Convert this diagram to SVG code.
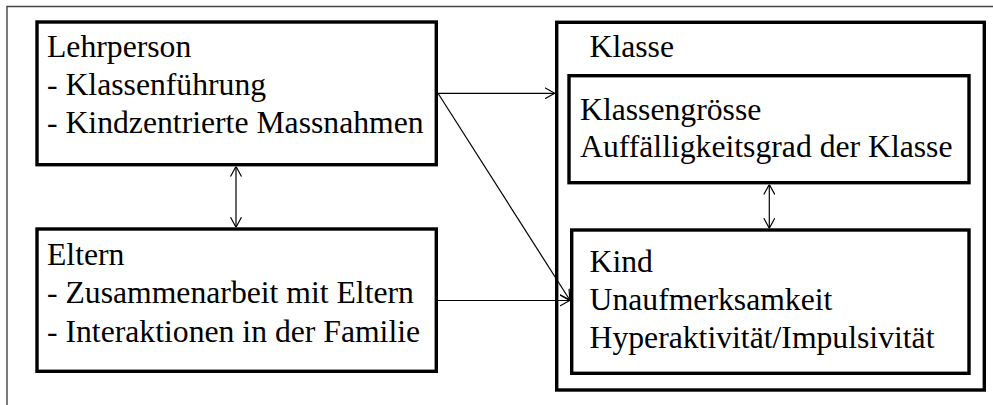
<svg xmlns="http://www.w3.org/2000/svg" width="993" height="405" viewBox="0 0 993 405">
<style>
  .box { fill: #fff; stroke: #000; stroke-width: 3.4; }
  .t { font-size: 31.7px; fill: #000; }
  .c { stroke: #000; stroke-width: 1.2; fill: none; }
  .frame { stroke: #444; stroke-width: 1.4; fill: none; }
</style>
<defs>
  <marker id="ah" viewBox="0 0 10 12" markerUnits="userSpaceOnUse" markerWidth="10" markerHeight="12" refX="10" refY="6" orient="auto-start-reverse">
    <path d="M0,0.5 L10,6 L0,11.5" fill="none" stroke="#000" stroke-width="1.2"/>
  </marker>
</defs>
<rect x="0" y="0" width="993" height="405" fill="#fff"/>
<g id="frame">
  <path class="frame" d="M7,405 L7,6.5 L993,6.5"/>
</g>
<g font-family="Liberation Serif, DejaVu Serif, serif">
<g id="lehrperson">
  <rect class="box" x="37" y="22" width="399.3" height="142.7"/>
  <text class="t" x="47" y="57.3">Lehrperson</text>
  <text class="t" x="47" y="95">- Klassenführung</text>
  <text class="t" x="47" y="133.3">- Kindzentrierte Massnahmen</text>
</g>
<g id="eltern">
  <rect class="box" x="37" y="229" width="399.3" height="142.3"/>
  <text class="t" x="47" y="265">Eltern</text>
  <text class="t" x="47" y="303.3">- Zusammenarbeit mit Eltern</text>
  <text class="t" x="47" y="341.7">- Interaktionen in der Familie</text>
</g>
<g id="klasse">
  <rect class="box" x="556.7" y="22.3" width="427.6" height="367.7"/>
  <text class="t" x="589.5" y="56.7">Klasse</text>
</g>
<g id="klassengroesse">
  <rect class="box" x="569" y="75.7" width="400" height="107"/>
  <text class="t" x="580" y="120">Klassengrösse</text>
  <text class="t" x="580" y="157.3">Auffälligkeitsgrad der Klasse</text>
</g>
<g id="kind">
  <rect class="box" x="571.7" y="230" width="397.3" height="143.3"/>
  <text class="t" x="589.5" y="271.7">Kind</text>
  <text class="t" x="589.5" y="310">Unaufmerksamkeit</text>
  <text class="t" x="589.5" y="348.3">Hyperaktivität/Impulsivität</text>
</g>
</g>
<g id="connectors">
  <line class="c" x1="438" y1="93.3" x2="554.8" y2="93.3" marker-end="url(#ah)"/>
  <line class="c" x1="438" y1="93.3" x2="569.8" y2="300" marker-end="url(#ah)"/>
  <line class="c" x1="438" y1="300.5" x2="569.8" y2="300.5" marker-end="url(#ah)"/>
  <line class="c" x1="236" y1="166.5" x2="236" y2="227.2" marker-start="url(#ah)" marker-end="url(#ah)"/>
  <line class="c" x1="769.3" y1="184.5" x2="769.3" y2="228.2" marker-start="url(#ah)" marker-end="url(#ah)"/>
</g>
</svg>
